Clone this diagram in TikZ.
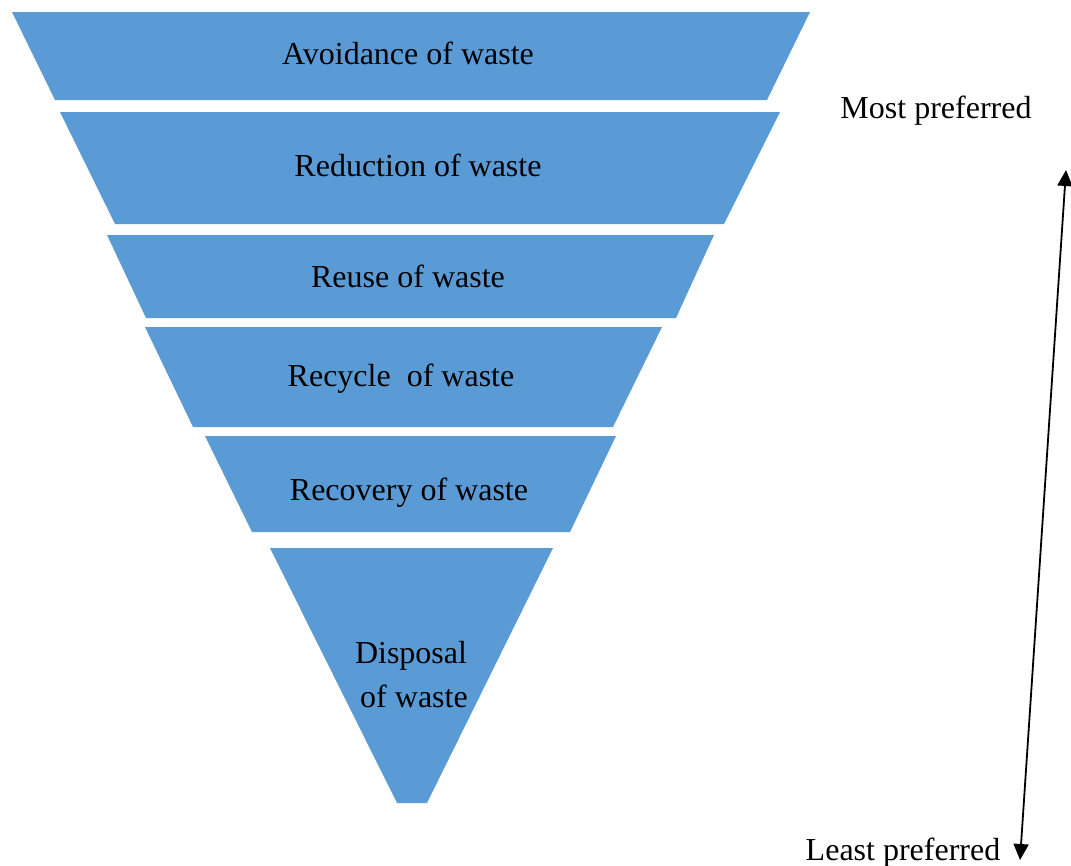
\documentclass[tikz,border=0pt]{standalone}
\usepackage{fontspec}
\setmainfont{Liberation Serif}
\usetikzlibrary{arrows.meta}
\definecolor{band}{HTML}{5B9BD5}
\tikzset{
  band/.style={fill=band, draw=none},
  lbl/.style={anchor=base, inner sep=0pt, font=\fontsize{32}{45}\selectfont, text=black},
  pref/.style={line width=1.8pt, {Triangle[length=16pt,width=15pt]}-{Triangle[length=16pt,width=15pt]}}
}
\begin{document}
\begin{tikzpicture}[x=1pt,y=-1pt]
\useasboundingbox (0,0) rectangle (1071,865);
% bands
\fill[band] (12,12) -- (810,12) -- (767,100) -- (55,100) -- cycle;
\fill[band] (60,112) -- (780,112) -- (724,224) -- (115,224) -- cycle;
\fill[band] (107,235) -- (714,235) -- (676,318) -- (146,318) -- cycle;
\fill[band] (145,327) -- (662,327) -- (613,427) -- (193,427) -- cycle;
\fill[band] (205,436) -- (616,436) -- (570,532) -- (252,532) -- cycle;
\fill[band] (270,548) -- (553,548) -- (427,803) -- (397,803) -- cycle;
% labels
\node[lbl] (avoid) at (408,64) {Avoidance of waste};
\node[lbl] (reduce) at (418,176) {Reduction of waste};
\node[lbl] (reuse) at (408,287) {Reuse of waste};
\node[lbl] (recycle) at (401,386) {Recycle\ \ of waste};
\node[lbl] (recover) at (409,500) {Recovery of waste};
\node[lbl] (disp1) at (411,663) {Disposal};
\node[lbl] (disp2) at (414,707) {of waste};
\node[lbl] (most) at (936,118) {Most preferred};
\node[lbl] (least) at (903,860) {Least preferred};
% arrow
\coordinate (top) at (1066,170);
\coordinate (bot) at (1020,860);
\draw[pref] (bot) -- (top);
\end{tikzpicture}
\end{document}
